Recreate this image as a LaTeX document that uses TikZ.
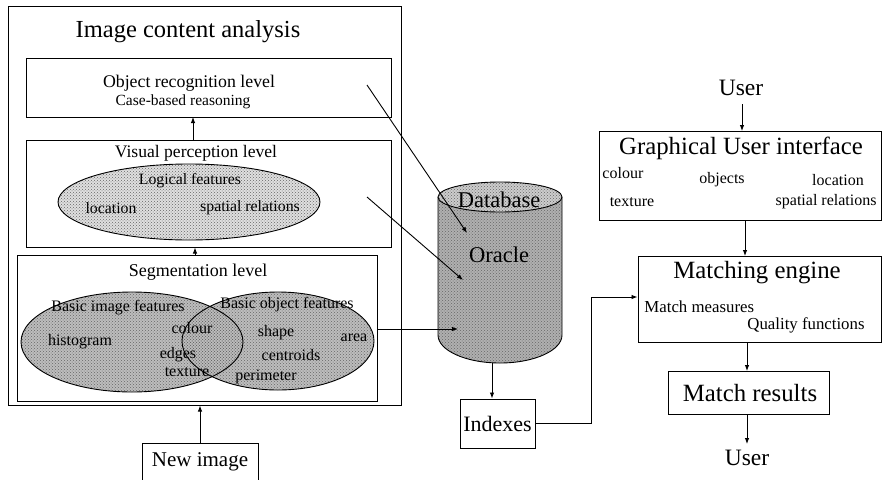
\documentclass[tikz,border=0pt]{standalone}
\usepackage{fontspec}
\setmainfont{Liberation Serif}
\usetikzlibrary{arrows.meta,patterns}
\newcommand{\myfs}[1]{\fontsize{#1}{#1}\selectfont}
\begin{document}
\begin{tikzpicture}[x=1pt,y=-1pt, line width=0.9pt,
 box/.style={draw, rectangle, inner sep=0pt, line width=1pt},
 arr/.style={-{Latex[length=6pt,width=4.5pt]}},
 lbl/.style={inner sep=0pt, anchor=center},
 stip/.style={pattern=crosshatch dots, pattern color=black!60},
]
\useasboundingbox (0,0) rectangle (882,479);
% left part
\node[box, minimum width=393pt, minimum height=399pt] (outer) at (204.5,205.5) {};
\node[lbl, font=\myfs{24.5}] (title) at (188,32) {Image content analysis};
\node[box, minimum width=365pt, minimum height=59pt] (obj) at (208.5,87.5) {};
\node[lbl, font=\myfs{17.8}] (objt) at (189,83) {Object recognition level};
\node[lbl, font=\myfs{15.5}] (objs) at (183,102) {Case-based reasoning};
\node[box, minimum width=365pt, minimum height=107pt] (vis) at (208.5,193.5) {};
\node[lbl, font=\myfs{17.6}] (vist) at (196,153) {Visual perception level};
% logical ellipse
\fill[gray!25] (189,202) ellipse[x radius=131, y radius=38];
\fill[stip] (189,202) ellipse[x radius=131, y radius=38];
\draw (189,202) ellipse[x radius=131, y radius=38];
\node[lbl, font=\myfs{15.8}] (logt) at (190,181) {Logical features};
\node[lbl, font=\myfs{15.8}] (loc) at (111,208) {location};
\node[lbl, font=\myfs{15.8}] (spr) at (250,208) {spatial relations};
% segmentation
\node[box, minimum width=360pt, minimum height=146pt] (seg) at (197,328) {};
\node[lbl, font=\myfs{18}] (segt) at (198,272) {Segmentation level};
\fill[gray!52] (132,342) ellipse[x radius=111, y radius=50];
\fill[gray!52] (278,341) ellipse[x radius=96, y radius=49];
\fill[stip] (132,342) ellipse[x radius=111, y radius=50];
\fill[stip] (278,341) ellipse[x radius=96, y radius=49];
\draw (132,342) ellipse[x radius=111, y radius=50];
\draw (278,341) ellipse[x radius=96, y radius=49];
\node[lbl, font=\myfs{16}] (bif) at (118,308) {Basic image features};
\node[lbl, font=\myfs{16}] (col) at (192,328) {colour};
\node[lbl, font=\myfs{16}] (his) at (80,342) {histogram};
\node[lbl, font=\myfs{16}] (edg) at (178,355) {edges};
\node[lbl, font=\myfs{16}] (tex) at (187,372) {texture};
\node[lbl, font=\myfs{16}] (bof) at (287,305) {Basic object features};
\node[lbl, font=\myfs{16}] (sha) at (276,333) {shape};
\node[lbl, font=\myfs{16}] (are) at (354,338) {area};
\node[lbl, font=\myfs{16}] (cen) at (291,355) {centroids};
\node[lbl, font=\myfs{16}] (per) at (266,377) {perimeter};
% new image
\node[box, minimum width=116pt, minimum height=42pt] (newi) at (200,464) {};
\node[lbl, font=\myfs{21}] (newt) at (200,462) {New image};
% internal arrows
\draw[arr] (newi.north) -- (newi.north |- outer.south);
\draw[arr] ([xshift=-2pt]seg.north) -- ([xshift=-2pt]seg.north |- vis.south);
\draw[arr] (193,140) -- (193,117);
% database cylinder
\fill[gray!62] (438,197) -- (438,335) arc[start angle=180, end angle=0, x radius=62, y radius=28] -- (562,197) -- cycle;
\fill[stip] (438,197) -- (438,335) arc[start angle=180, end angle=0, x radius=62, y radius=28] -- (562,197) -- cycle;
\draw (438,197) -- (438,335) arc[start angle=180, end angle=0, x radius=62, y radius=28] -- (562,197);
\fill[gray!40] (500,197) ellipse[x radius=62, y radius=15];
\fill[stip] (500,197) ellipse[x radius=62, y radius=15];
\draw (500,197) ellipse[x radius=62, y radius=15];
\node[lbl, font=\myfs{22.5}] (dbt) at (499,200) {Database};
\node[lbl, font=\myfs{22.5}] (ora) at (499,255) {Oracle};
\coordinate (dbbot) at (492,363);
\coordinate (o1) at (367,85);
\coordinate (c1) at (467,233);
\coordinate (o2) at (367,197);
\coordinate (c2) at (463,280);
\coordinate (c3) at (458,329);
\draw[arr] (o1) -- (c1);
\draw[arr] (o2) -- (c2);
\draw[arr] (seg.east |- c3) -- (c3);
% indexes
\node[box, minimum width=75pt, minimum height=49pt] (idx) at (497.5,423.5) {};
\node[lbl, font=\myfs{22}] (idxt) at (497.5,424) {Indexes};
\draw[arr] (dbbot) -- (dbbot |- idx.north);
% right part
\node[lbl, font=\myfs{23.5}] (user1) at (741,88) {User};
\node[box, minimum width=282pt, minimum height=89pt] (gui) at (740,175.5) {};
\node[lbl, font=\myfs{24.8}] (guit) at (741,148) {Graphical User interface};
\node[lbl, font=\myfs{16}, anchor=west] (gcol) at (602,173) {colour};
\node[lbl, font=\myfs{16}] (gobj) at (722,180) {objects};
\node[lbl, font=\myfs{16}] (gloc) at (838,180) {location};
\node[lbl, font=\myfs{16}] (gtex) at (632,202) {texture};
\node[lbl, font=\myfs{16}, anchor=east] (gspr) at (877,202) {spatial relations};
\node[box, minimum width=243pt, minimum height=86pt] (me) at (759.5,299) {};
\node[lbl, font=\myfs{24.8}] (met) at (757,273) {Matching engine};
\node[lbl, font=\myfs{16.8}, anchor=west] (mm) at (644,307) {Match measures};
\node[lbl, font=\myfs{16.8}, anchor=east] (qf) at (865,325) {Quality functions};
\node[box, minimum width=161pt, minimum height=43pt] (mr) at (748.5,392.5) {};
\node[lbl, font=\myfs{24.8}] (mrt) at (750,393) {Match results};
\node[lbl, font=\myfs{23.5}] (user2) at (747,458) {User};
\draw[arr] (742,104) -- (742,131);
\draw[arr] (745,220) -- (745,256);
\draw[arr] (747,342) -- (747,371);
\draw[arr] (747,414) -- (747,444);
\draw[arr] (idx.east) -| (591,297) -- (me.west |- 0,297);
\end{tikzpicture}
\end{document}
